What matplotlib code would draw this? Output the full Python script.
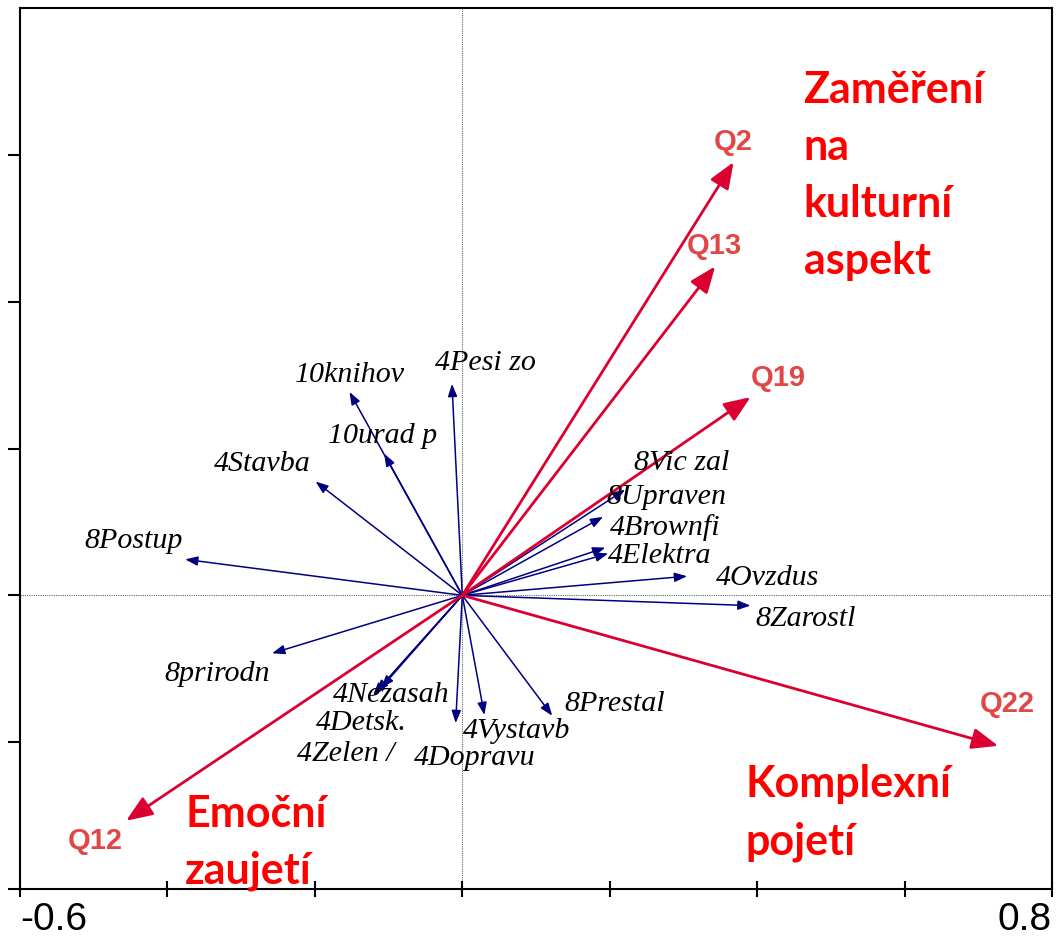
import numpy as np
import matplotlib.pyplot as plt

# species / response arrows (blue)
sp_names = ['10knihov', '4Pesi zo', '10urad p', '4Stavba', '8Postup', '8prirodn',
            '4Nezasah', '4Detsk.', '4Zelen /', '4Dopravu', '4Vystavb', '8Prestal',
            '8Vic zal', '8Upraven', '4Brownfi', '4Elektra', '4Ovzdus', '8Zarostl']
sp_x = [-0.153, -0.014, -0.106, -0.199, -0.376, -0.258,
        -0.110, -0.117, -0.121, -0.009, 0.030, 0.122,
        0.221, 0.191, 0.194, 0.198, 0.305, 0.391]
sp_y = [0.277, 0.288, 0.193, 0.155, 0.049, -0.079,
        -0.126, -0.132, -0.136, -0.174, -0.163, -0.164,
        0.144, 0.107, 0.065, 0.057, 0.026, -0.014]

# explanatory arrows (red)
env_names = ['Q2', 'Q13', 'Q19', 'Q22', 'Q12']
env_x = [0.368, 0.343, 0.391, 0.727, -0.456]
env_y = [0.590, 0.448, 0.270, -0.205, -0.307]

# label offsets from arrow tips, in pixels
sp_off = [(0, 17), (33, 21), (-2, 18), (-53, 18), (-52, 18), (-55, -21),
          (10, -7), (-15, -31), (-27, -59), (19, -35), (32, -16), (62, 12),
          (56, 27), (63, 20), (60, 20), (51, -3), (80, -2), (55, -13)]
env_off = [(0, 20), (-1, 20), (28, 19), (9, 42), (-31, -20)]

# group annotations
groups = [['Zaměření', 'na', 'kulturní', 'aspekt'],
          ['Komplexní', 'pojetí'],
          ['Emoční', 'zaujetí']]
group_pos = [(0.463, 0.670), (0.384, -0.275), (-0.376, -0.315)]

fig = plt.figure(figsize=(10.58, 9.42), dpi=100)
ax = fig.add_axes([20/1058, 53/942, 1032/1058, 881/942])
ax.set_xlim(-0.6, 0.8)
ax.set_ylim(-0.4, 0.8)

ax.axhline(0, color='#666666', lw=0.8, ls=(0, (1, 1)), zorder=1)
ax.axvline(0, color='#666666', lw=0.8, ls=(0, (1, 1)), zorder=1)

for i in range(len(sp_names)):
    ax.annotate('', xy=(sp_x[i], sp_y[i]), xytext=(0, 0),
                arrowprops=dict(arrowstyle='-|>,head_length=0.75,head_width=0.28',
                                color='#000080', lw=1.1, shrinkA=0, shrinkB=0,
                                mutation_scale=10), zorder=3)
    ax.annotate(sp_names[i], xy=(sp_x[i], sp_y[i]), xytext=sp_off[i],
                textcoords='offset pixels', ha='center', va='center',
                fontsize=21.6, family='Liberation Serif', style='italic',
                color='black', zorder=5)

for i in range(len(env_names)):
    ax.annotate('', xy=(env_x[i], env_y[i]), xytext=(0, 0),
                arrowprops=dict(arrowstyle='-|>,head_length=0.8,head_width=0.32',
                                color='#dc0030', lw=2.0, shrinkA=0, shrinkB=0,
                                mutation_scale=20), zorder=4)
    ax.annotate(env_names[i], xy=(env_x[i], env_y[i]), xytext=env_off[i],
                textcoords='offset pixels', ha='center', va='center',
                fontsize=21, family='Liberation Sans', weight='bold',
                color='#e04848', zorder=5)

for lines, (gx, gy) in zip(groups, group_pos):
    for k, line in enumerate(lines):
        ax.annotate(line, xy=(gx, gy), xytext=(0, -57*k), textcoords='offset pixels',
                    ha='left', va='baseline', fontsize=31, family='Lato',
                    weight='bold', color='#ff0000', zorder=6, annotation_clip=False)

xt = np.arange(-0.6, 0.81, 0.2)
ax.set_xticks(xt)
labels = ['-0.6'] + [''] * (len(xt) - 2) + ['0.8']
ax.set_xticklabels(labels, fontsize=28, family='Liberation Sans')
tl = ax.get_xticklabels()
tl[0].set_ha('left')
tl[-1].set_ha('right')
ax.set_yticks([-0.4, -0.2, 0.0, 0.2, 0.4, 0.6])
ax.tick_params(axis='y', direction='out', length=9, width=1.5, labelleft=False)
ax.tick_params(axis='x', direction='inout', length=12, width=1.5, pad=3)
for s in ax.spines.values():
    s.set_linewidth(1.5)

fig.savefig('out.png', dpi=100)
